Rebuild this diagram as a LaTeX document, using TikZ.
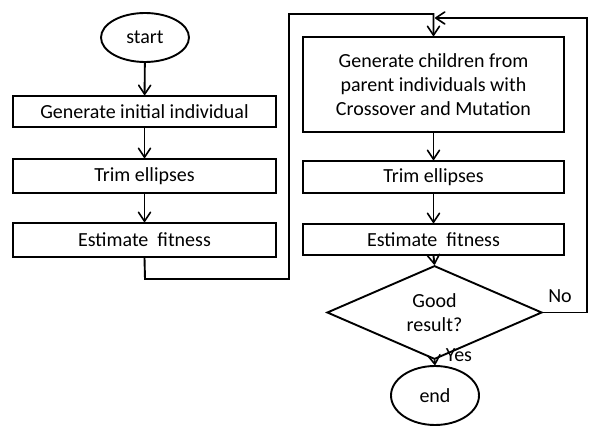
\documentclass[tikz,border=0pt]{standalone}
\usepackage{fontspec}
\setmainfont{Carlito}
\usetikzlibrary{shapes.geometric,arrows.meta}
\tikzset{
  every node/.style={font=\fontsize{20}{24}\selectfont},
  flow/.style={line width=1.9pt},
  arr/.style={flow,-{Straight Barb[length=9pt,width=12pt,line width=1.6pt,round]}},
  procbox/.style={draw,line width=1.9pt,rectangle,inner sep=0pt,align=center},
  terminal/.style={draw,line width=1.9pt,ellipse,inner sep=0pt,minimum width=88pt},
  decision/.style={draw,line width=1.9pt,diamond,inner sep=0pt,align=center,minimum width=215pt,minimum height=69pt},
  lbl/.style={inner sep=0pt}
}
\begin{document}
\begin{tikzpicture}[x=1pt,y=-1pt]
\useasboundingbox (0,0) rectangle (589,427);
% left column
\node[terminal,minimum height=49pt] (start) at (145,37.5) {start};
\node[procbox,minimum width=263pt,minimum height=31pt] (init) at (144.5,111.5) {Generate initial individual};
\node[procbox,minimum width=263pt,minimum height=34pt] (trim1) at (144.5,176) {Trim ellipses};
\node[procbox,minimum width=263pt,minimum height=34pt] (est1) at (144.5,240) {Estimate\ \ fitness};
% right column
\node[procbox,minimum width=261pt,minimum height=95pt] (gen) at (433.5,84.5) {Generate children from\\parent individuals with\\Crossover and Mutation};
\node[procbox,minimum width=261pt,minimum height=32pt] (trim2) at (433.5,177) {Trim ellipses};
\node[procbox,minimum width=261pt,minimum height=31pt] (est2) at (433.5,239.5) {Estimate\ \ fitness};
\node[decision] (dec) at (434.5,312.5) {Good\\result?};
\node[terminal,minimum height=59pt] (end) at (435,395.5) {end};
% labels
\node[lbl] (no) at (560,296) {No};
\node[lbl] (yes) at (459,355) {Yes};
% helper coordinates
\coordinate (k1) at (145,279);
\coordinate (k2) at (289,14);
\coordinate (k3) at (587,18);
\coordinate (k4) at (435,18);
% connectors
\draw[arr] (start) -- (init);
\draw[arr] (init) -- (trim1);
\draw[arr] (trim1) -- (est1);
\draw[arr] (est1.south) -- (k1) -| (k2) -| (gen.north);
\draw[arr] (gen) -- (trim2);
\draw[arr] (trim2) -- (est2);
\draw[arr] (est2.south) -- (dec.north);
\draw[arr] (dec.south) -- (end.north);
\draw[arr] (dec.east) -| (k3) -- (k4);
\end{tikzpicture}
\end{document}
